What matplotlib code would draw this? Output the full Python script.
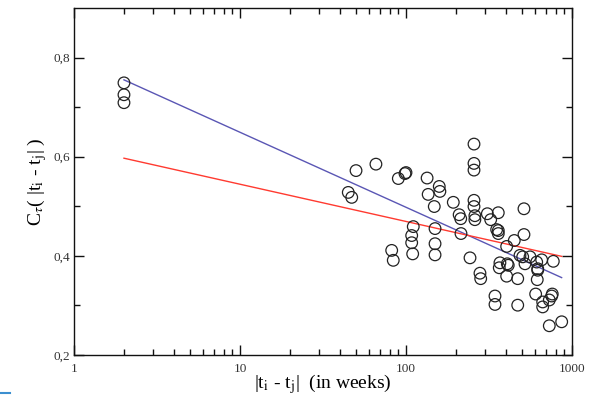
import numpy as np
import matplotlib
matplotlib.use("Agg")
import matplotlib.pyplot as plt
from matplotlib.ticker import FixedLocator, NullFormatter
from matplotlib.lines import Line2D

# ---- data ----
lag_weeks = [2, 2, 2,
             44.9, 47.1, 50, 65.9, 89.9, 98.6, 100, 134, 136, 158.6, 160, 148,
             192.7, 209, 213.6, 256.8, 256.8, 256.8, 256.8, 256.8, 260, 260,
             309, 323.7, 359.7, 351.6, 359.7, 359.7, 513.6, 513.6, 449, 404,
             110.6, 108.2, 108.2, 109.7, 82, 83.8, 149.6, 149.6, 149.6,
             214.4, 243, 279, 281.8, 343.6, 343.6, 368, 364.6, 407.6, 413,
             404, 471, 471, 486, 504.6, 558.5, 521, 612.9, 621.5, 621.5,
             617.5, 656.5, 771.6, 604, 665.8, 665.8, 729.8, 754.6, 760.5,
             729.8, 866.7]
corr = [0.749, 0.725, 0.709,
        0.528, 0.518, 0.572, 0.585, 0.556, 0.566, 0.568, 0.557, 0.524, 0.540, 0.530, 0.4995,
        0.508, 0.483, 0.475, 0.6255, 0.5865, 0.573, 0.512, 0.4995, 0.481, 0.473,
        0.485, 0.473, 0.487, 0.453, 0.451, 0.445, 0.495, 0.443, 0.431, 0.419,
        0.459, 0.441, 0.4265, 0.404, 0.411, 0.391, 0.455, 0.4245, 0.402,
        0.445, 0.396, 0.365, 0.354, 0.319, 0.302, 0.386, 0.376, 0.384, 0.381,
        0.359, 0.354, 0.3005, 0.401, 0.398, 0.398, 0.384, 0.3875, 0.374, 0.371,
        0.352, 0.392, 0.389, 0.323, 0.307, 0.297, 0.311, 0.319, 0.323,
        0.259, 0.267]

# fitted lines: y = a + b*log10(x)
fit_blue = (0.8006, -0.1513)
fit_red = (0.6196, -0.0751)
fit_range = (2, 866)

y_ticks = [0.2, 0.4, 0.6, 0.8]
y_ticklabels = ["0,2", "0,4", "0,6", "0,8"]
x_ticks = [1, 10, 100, 1000]
x_ticklabels = ["1", "10", "100", "1000"]

# ---- plot ----
plt.rcParams["font.family"] = ["Liberation Serif", "DejaVu Serif"]
plt.rcParams["mathtext.fontset"] = "stix"

fig = plt.figure(figsize=(5.96, 3.97), dpi=100)
ax = fig.add_axes([74/596, 1-355/397, (572-74)/596, (355-8)/397])

xs = np.logspace(np.log10(fit_range[0]), np.log10(fit_range[1]), 50)
ax.plot(xs, fit_blue[0] + fit_blue[1]*np.log10(xs), color="#5a56b4", lw=1.0, zorder=2)
ax.plot(xs, fit_red[0] + fit_red[1]*np.log10(xs), color="#ff3a30", lw=1.0, zorder=2)
ax.scatter(lag_weeks, corr, s=70, facecolors="none", edgecolors="#222222",
           linewidths=0.9, zorder=3)

ax.set_xscale("log")
ax.set_xlim(1, 1000)
ax.set_ylim(0.2, 0.9)

ax.xaxis.set_major_locator(FixedLocator(x_ticks))
ax.set_xticklabels(x_ticklabels)
ax.xaxis.set_minor_locator(FixedLocator([m*10**e for e in range(0, 3) for m in range(2, 10)]))
ax.xaxis.set_minor_formatter(NullFormatter())
ax.set_yticks(y_ticks)
ax.set_yticklabels(y_ticklabels)
ax.yaxis.set_minor_locator(FixedLocator([0.3, 0.5, 0.7]))

ax.tick_params(which="both", direction="in", top=True, right=True, width=1.0,
               labelsize=9.5, labelcolor="#333333", color="#111111")
ax.tick_params(which="major", length=7.5)
ax.tick_params(which="minor", length=4.0)
ax.tick_params(axis="x", which="major", pad=6)
ax.tick_params(axis="y", which="major", pad=3)
for s in ax.spines.values():
    s.set_linewidth(1.0)
    s.set_color("#111111")

ax.set_xlabel(r"|t$_\mathrm{i}$ - t$_\mathrm{j}$|  (in weeks)", fontsize=14, labelpad=-2)
ax.set_ylabel(r"C$_\tau$( |t$_\mathrm{i}$ - t$_\mathrm{j}$| )", fontsize=14, labelpad=3)

fig.add_artist(Line2D([0, 10/596], [4/397, 4/397], color="#3b8fd0", lw=1.5))

fig.savefig("out.png", dpi=100)
